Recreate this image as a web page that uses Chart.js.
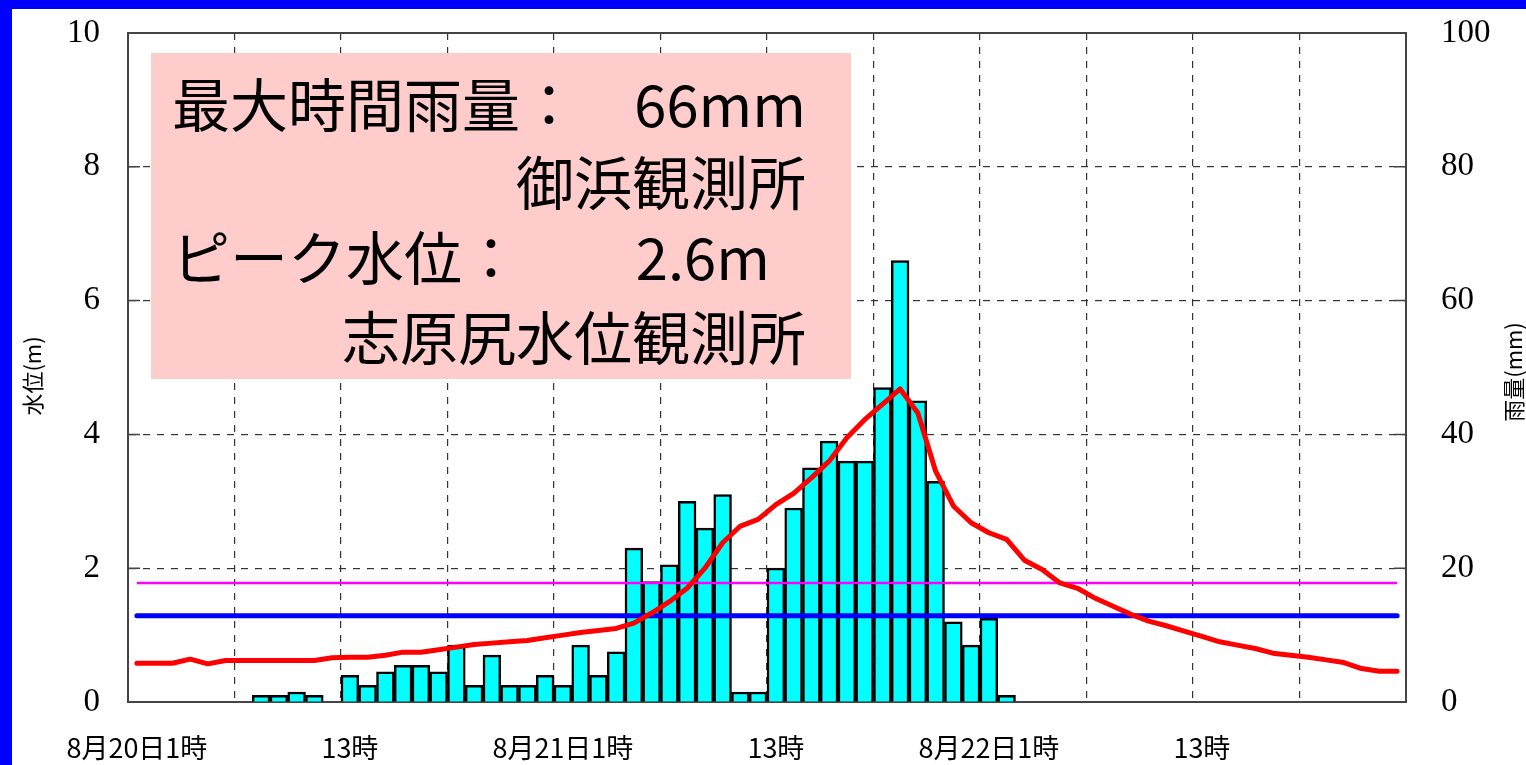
<!DOCTYPE html>
<html>
<head>
<meta charset="utf-8">
<script src="https://cdn.jsdelivr.net/npm/chart.js@4.4.0/dist/chart.umd.min.js"></script>
<style>
  html, body { margin: 0; padding: 0; background: #fff; }
  #wrap { position: relative; width: 1526px; height: 765px; overflow: hidden; }
  #bandTop { position: absolute; left: 0; top: 0; width: 1526px; height: 9px; background: #0000ff; }
  #bandLeft { position: absolute; left: 0; top: 0; width: 12px; height: 765px; background: #0000ff; }
</style>
</head>
<body>
<div id="wrap">
  <canvas id="myChart"></canvas>
  <div id="bandTop"></div>
  <div id="bandLeft"></div>
</div>
<script>
"use strict";

// categories: one slot per hour, 8/20 1時 .. 8/23 0時
const days = ['8/20', '8/21', '8/22'];
const hours = [];
days.forEach((d) => {
  for (let h = 1; h <= 24; h++) hours.push(d + ' ' + h + '時');
});

// tick labels, every 12 hours
const tickLabels = ['8月20日1時', '13時', '8月21日1時', '13時', '8月22日1時', '13時'];

// hourly rainfall (mm), right axis
const rainfall = [
  null, null, null, null, null, null, null, 1, 1, 1.5, 1, null,
  4, 2.5, 4.5, 5.5, 5.5, 4.5, 8.5, 2.5, 7, 2.5, 2.5, 4,
  2.5, 8.5, 4, 7.5, 23, 18, 20.5, 30, 26, 31, 1.5, 1.5,
  20, 29, 35, 39, 36, 36, 47, 66, 45, 33, 12, 8.5,
  12.5, 1, null, null, null, null, null, null, null, null, null, null,
  null, null, null, null, null, null, null, null, null, null, null, null
];

// water level (m), left axis
const waterLevel = [
  0.58, 0.58, 0.58, 0.64, 0.57, 0.62, 0.62, 0.62, 0.62, 0.62, 0.62, 0.66,
  0.67, 0.67, 0.70, 0.745, 0.745, 0.78, 0.82, 0.86, 0.88, 0.90, 0.92, 0.96,
  1.0, 1.04, 1.07, 1.10, 1.18, 1.33, 1.50, 1.70, 2.0, 2.38, 2.63, 2.73,
  2.95, 3.12, 3.35, 3.60, 3.95, 4.22, 4.45, 4.68, 4.32, 3.45, 2.93, 2.68,
  2.53, 2.43, 2.12, 1.98, 1.78, 1.70, 1.55, 1.43, 1.31, 1.21, 1.14, 1.06,
  0.98, 0.90, 0.85, 0.80, 0.73, 0.70, 0.67, 0.63, 0.59, 0.50, 0.46, 0.46
];

// reference levels (m)
const magentaLevel = 1.78;
const blueLevel = 1.29;

const noteLeft = ['最大時間雨量：', '', 'ピーク水位：', ''];
const noteRight = ['66mm', '御浜観測所', '2.6m', '志原尻水位観測所'];

const leftTitle = '水位(m)';
const rightTitle = '雨量(mm)';

const extras = {
  id: 'extras',
  beforeDatasetsDraw(chart) {
    const ctx = chart.ctx;
    const a = chart.chartArea;
    ctx.save();
    // top frame line
    ctx.strokeStyle = '#444';
    ctx.lineWidth = 2;
    ctx.beginPath();
    ctx.moveTo(a.left, a.top);
    ctx.lineTo(a.right, a.top);
    ctx.stroke();
    // small inward ticks on both y axes
    ctx.lineWidth = 1.5;
    chart.scales.y.ticks.forEach((t) => {
      const py = chart.scales.y.getPixelForValue(t.value);
      ctx.beginPath();
      ctx.moveTo(a.left, py);
      ctx.lineTo(a.left + 12, py);
      ctx.moveTo(a.right - 12, py);
      ctx.lineTo(a.right, py);
      ctx.stroke();
    });
    // pink note box
    ctx.fillStyle = '#ffcccc';
    ctx.fillRect(151, 53, 700, 326);
    ctx.fillStyle = '#000';
    ctx.font = '58px "Noto Sans CJK JP"';
    ctx.textBaseline = 'middle';
    const rows = [105, 183, 258, 338];
    const rightEdges = [806, 806, 770, 806];
    rows.forEach((y, i) => {
      ctx.textAlign = 'left';
      ctx.fillText(noteLeft[i], 172, y);
      ctx.textAlign = 'right';
      ctx.fillText(noteRight[i], rightEdges[i], y);
    });
    ctx.restore();
  },
  afterDraw(chart) {
    const ctx = chart.ctx;
    ctx.save();
    ctx.fillStyle = '#000';
    ctx.font = '22px "Noto Sans CJK JP"';
    ctx.textAlign = 'center';
    ctx.textBaseline = 'middle';
    ctx.translate(33, 376);
    ctx.rotate(-Math.PI / 2);
    ctx.fillText(leftTitle, 0, 0);
    ctx.restore();
    ctx.save();
    ctx.fillStyle = '#000';
    ctx.font = '22px "Noto Sans CJK JP"';
    ctx.textAlign = 'center';
    ctx.textBaseline = 'middle';
    ctx.translate(1514, 372);
    ctx.rotate(-Math.PI / 2);
    ctx.fillText(rightTitle, 0, 0);
    ctx.restore();
  }
};

// fixed axis box sizes, no extra label padding
const fitY = (w) => (s) => {
  s.width = w;
  s.paddingTop = 0;
  s.paddingBottom = 0;
};

const data = {
  labels: hours,
  datasets: [
    {
      type: 'line',
      label: '水位',
      data: waterLevel,
      yAxisID: 'y',
      borderColor: '#ff0000',
      borderWidth: 5,
      borderCapStyle: 'round',
      borderJoinStyle: 'round',
      pointRadius: 0,
      tension: 0,
      order: 0
    },
    {
      type: 'line',
      label: 'blue',
      data: [{ x: hours[0], y: blueLevel }, { x: hours[hours.length - 1], y: blueLevel }],
      yAxisID: 'y',
      borderColor: '#0000ff',
      borderWidth: 5,
      borderCapStyle: 'round',
      pointRadius: 0,
      order: 1
    },
    {
      type: 'line',
      label: 'magenta',
      data: [{ x: hours[0], y: magentaLevel }, { x: hours[hours.length - 1], y: magentaLevel }],
      yAxisID: 'y',
      borderColor: '#ff00ff',
      borderWidth: 2.5,
      pointRadius: 0,
      order: 2
    },
    {
      type: 'bar',
      label: '雨量',
      data: rainfall,
      yAxisID: 'y2',
      backgroundColor: '#00ffff',
      borderColor: '#000',
      borderWidth: 2.5,
      barPercentage: 1,
      categoryPercentage: 1,
      order: 3
    }
  ]
};

const config = {
  type: 'bar',
  data,
  options: {
    responsive: true,
    maintainAspectRatio: false,
    animation: false,
    layout: { padding: { top: 33, left: 0, right: 0, bottom: 0 } },
    plugins: { legend: { display: false }, tooltip: { enabled: false } },
    scales: {
      x: {
        type: 'category',
        offset: true,
        afterFit: (s) => { s.height = 63; },
        grid: {
          offset: true,
          drawTicks: false,
          lineWidth: 1.2,
          color: (c) => (c.index % 6 === 0 && c.index > 0 && c.index < 72) ? '#333' : 'rgba(0,0,0,0)'
        },
        border: { color: '#444', width: 2, dash: [7, 7] },
        ticks: {
          autoSkip: false,
          maxRotation: 0,
          padding: 30,
          color: '#000',
          font: { family: '"Noto Sans CJK JP"', size: 27 },
          callback: (v, i) => (i % 12 === 0 ? tickLabels[i / 12] : '')
        }
      },
      y: {
        position: 'left',
        min: 0,
        max: 10,
        afterFit: fitY(128),
        grid: {
          drawTicks: false,
          lineWidth: 1.2,
          color: (c) => (c.tick && c.tick.value > 0 && c.tick.value < 10) ? '#333' : 'rgba(0,0,0,0)'
        },
        border: { color: '#444', width: 2, dash: [7, 7] },
        ticks: {
          stepSize: 2,
          padding: 28,
          color: '#000',
          font: { family: '"Liberation Serif"', size: 33 }
        }
      },
      y2: {
        position: 'right',
        min: 0,
        max: 100,
        afterFit: fitY(120),
        grid: { drawOnChartArea: false, drawTicks: false },
        border: { color: '#444', width: 2 },
        ticks: {
          stepSize: 20,
          padding: 35,
          color: '#000',
          font: { family: '"Liberation Serif"', size: 33 }
        }
      }
    }
  },
  plugins: [extras]
};

const myChart = new Chart(document.getElementById('myChart'), config);
</script>
</body>
</html>
